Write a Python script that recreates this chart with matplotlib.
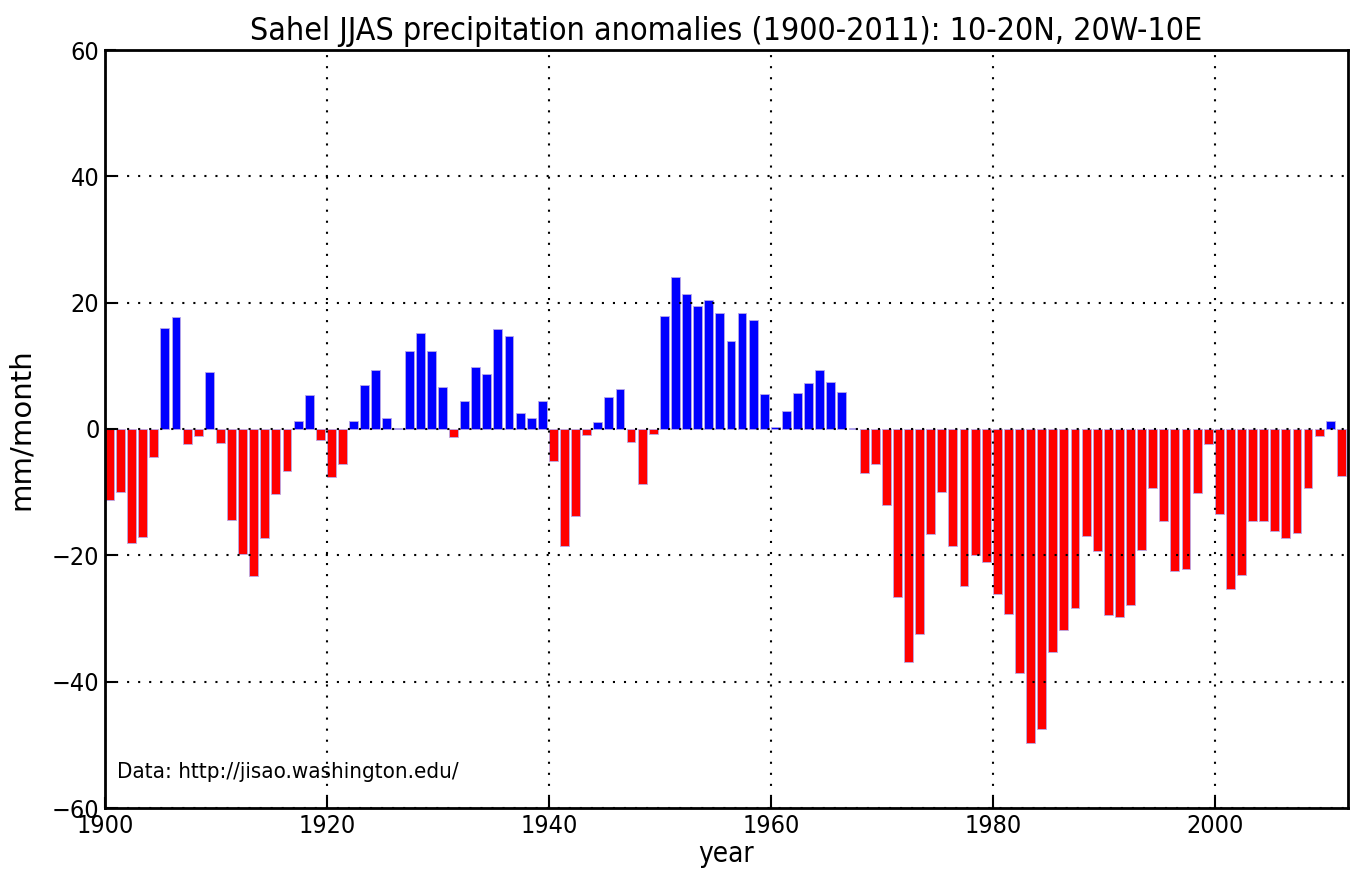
import numpy as np
import matplotlib
matplotlib.use("Agg")
import matplotlib.pyplot as plt

# 年份和降水距平 (mm/month)
years = list(range(1900, 2012))
anomaly = [
    -11.3, -9.9, -18.0, -17.1, -4.5, 16.0, 17.8, -2.4, -1.1, 9.0,        # 1900s
    -2.2, -14.4, -19.8, -23.2, -17.3, -10.3, -6.7, 1.2, 5.4, -1.8,       # 1910s
    -7.6, -5.5, 1.2, 7.0, 9.3, 1.8, 0.2, 12.4, 15.2, 12.4,               # 1920s
    6.6, -1.2, 4.5, 9.8, 8.75, 15.8, 14.7, 2.5, 1.7, 4.5,                # 1930s
    -5.1, -18.5, -13.7, -0.9, 1.1, 5.1, 6.3, -2.0, -8.75, -0.75,         # 1940s
    17.9, 24.0, 21.3, 19.5, 20.5, 18.4, 14.0, 18.4, 17.2, 5.6,           # 1950s
    0.3, 2.8, 5.7, 7.3, 9.4, 7.5, 5.8, 0.2, -6.9, -5.5,                  # 1960s
    -12.0, -26.6, -36.9, -32.5, -16.7, -9.9, -18.5, -24.9, -20.0, -21.1, # 1970s
    -26.2, -29.3, -38.7, -49.7, -47.5, -35.3, -31.8, -28.3, -17.0, -19.3, # 1980s
    -29.4, -29.7, -27.8, -19.2, -9.4, -14.6, -22.5, -22.1, -10.1, -2.3,  # 1990s
    -13.4, -25.3, -23.1, -14.5, -14.5, -16.1, -17.3, -16.5, -9.4, -1.1,  # 2000s
    1.3, -7.4,                                                            # 2010s
]
xticks = [1900, 1920, 1940, 1960, 1980, 2000]
yticks = [-60, -40, -20, 0, 20, 40, 60]

plt.rcParams['font.family'] = ['DejaVu Sans']
plt.rcParams['font.stretch'] = 'condensed'

fig = plt.figure(figsize=(13.5, 8.77), dpi=100)
ax = fig.add_axes([105 / 1350, 69 / 877, 1243 / 1350, 758 / 877])

vals = np.array(anomaly)
colors = np.where(vals >= 0, 'blue', 'red')
ax.bar(years, vals, width=0.8, align='edge', color=colors,
       edgecolor='#b8a8e8', linewidth=0.6)

ax.set_xlim(1900, 2012)
ax.set_ylim(-60, 60)
ax.set_xticks(xticks)
ax.set_yticks(yticks)
ax.grid(True, color='black', linestyle=(0, (1, 4.3)), linewidth=1.5)
ax.set_axisbelow(False)
ax.tick_params(direction='in', length=8, width=1.5, labelsize=18, pad=4)
for s in ax.spines.values():
    s.set_linewidth(2)

ax.set_title('Sahel JJAS precipitation anomalies (1900-2011): 10-20N, 20W-10E',
             fontsize=23, pad=7)
ax.set_xlabel('year', fontsize=20, labelpad=2)
ax.set_ylabel('mm/month', fontsize=21, labelpad=12, fontstretch='normal')
ax.text(0.01, 0.04, 'Data: http://jisao.washington.edu/', transform=ax.transAxes,
        fontsize=16)

fig.savefig('out.png', dpi=100)
